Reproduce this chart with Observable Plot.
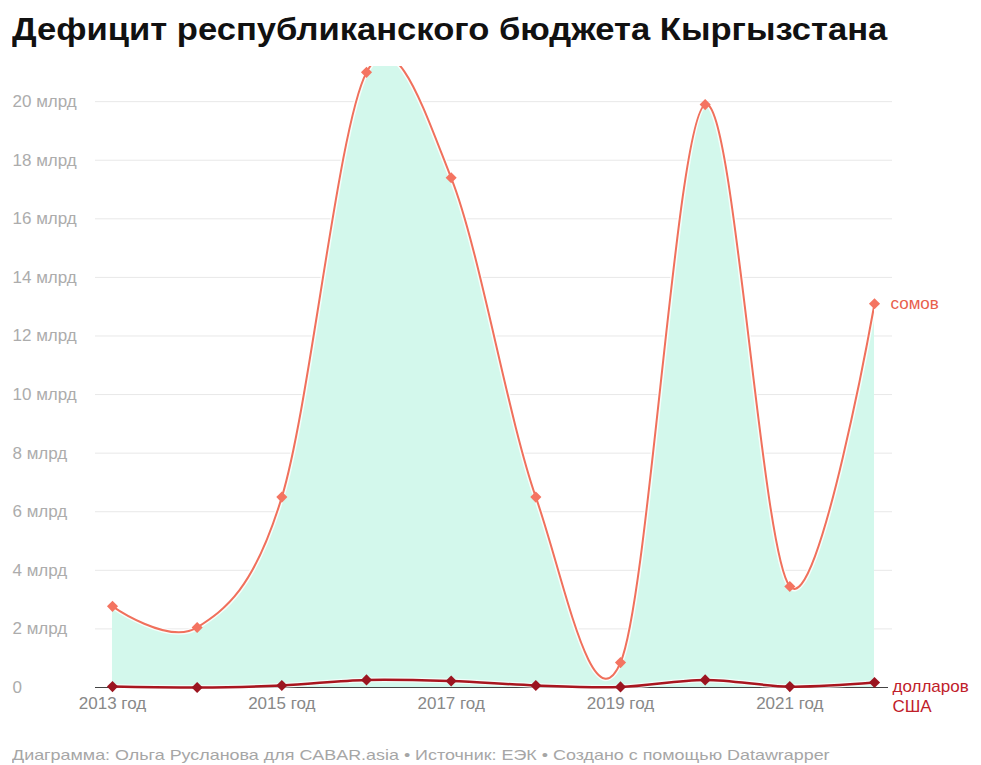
<!DOCTYPE html>
<html><head><meta charset="utf-8">
<script src="https://cdn.jsdelivr.net/npm/d3@7"></script>
<script src="https://cdn.jsdelivr.net/npm/@observablehq/plot@0.6"></script>
<style>
body{margin:0;background:#fff;font-family:"Liberation Sans",Arial,sans-serif;}
#wrap{position:relative;width:981px;height:765px;overflow:hidden;}
#title{position:absolute;left:12px;top:15px;font-size:31px;font-weight:bold;line-height:30px;color:#111;white-space:nowrap;transform:scaleX(1.115);transform-origin:left center;}
#chart{position:absolute;left:0;top:50px;}
#chart text.tick{letter-spacing:1px;}
#caption{position:absolute;left:12px;top:749px;font-size:14.5px;line-height:12px;color:#a6a6a6;white-space:nowrap;transform:scaleX(1.235);transform-origin:left center;}
</style></head><body>
<div id="wrap">
<div id="title">Дефицит республиканского бюджета Кыргызстана</div>
<div id="chart"></div>
<div id="caption">Диаграмма: Ольга Русланова для CABAR.asia • Источник: ЕЭК • Создано с помощью Datawrapper</div>
</div>
<script>
const years = [2013, 2014, 2015, 2016, 2017, 2018, 2019, 2020, 2021, 2022];
const somValues = [2.77, 2.05, 6.5, 21.0, 17.4, 6.5, 0.85, 19.9, 3.45, 13.1];
const usdValues = [0.03, 0.0, 0.07, 0.26, 0.22, 0.07, 0.02, 0.26, 0.03, 0.17];
const yTicks = [0, 2, 4, 6, 8, 10, 12, 14, 16, 18, 20];
const yTickLabels = ["0", "2 млрд", "4 млрд", "6 млрд", "8 млрд", "10 млрд", "12 млрд", "14 млрд", "16 млрд", "18 млрд", "20 млрд"];
const xTicks = [2013, 2015, 2017, 2019, 2021];
const xTickLabels = ["2013 год", "2015 год", "2017 год", "2019 год", "2021 год"];
const somLabel = "сомов";
const usdLabel = "долларов\nСША";

const som = years.map((y, i) => ({year: y, value: somValues[i]}));
const usd = years.map((y, i) => ({year: y, value: usdValues[i]}));
const yt = yTicks.map((v, i) => ({v, label: yTickLabels[i]}));
const xt = xTicks.map((v, i) => ({v, label: xTickLabels[i]}));
const last = years.length - 1;

const chart = Plot.plot({
  width: 981,
  height: 690,
  marginTop: 16,
  marginBottom: 53,
  marginLeft: 112,
  marginRight: 107,
  style: {fontFamily: "'Liberation Sans', Arial, sans-serif", background: "transparent"},
  x: {domain: [2013, 2022], axis: null},
  y: {domain: [0, 21.2], axis: null},
  marks: [
    Plot.ruleY(yTicks.filter(d => d > 0), {stroke: "#e8e8e8", strokeWidth: 1, insetLeft: -17, insetRight: -18}),
    Plot.areaY(som, {x: "year", y: "value", curve: "cardinal", fill: "#d3f8ec", clip: true}),
    Plot.ruleY([0], {stroke: "#444", strokeWidth: 1, insetLeft: -17, insetRight: -14}),
    Plot.lineY(som, {x: "year", y: "value", curve: "cardinal", stroke: "#fff", strokeOpacity: 0.8, strokeWidth: 5, clip: true}),
    Plot.lineY(som, {x: "year", y: "value", curve: "cardinal", stroke: "#f0705c", strokeWidth: 2, clip: true}),
    Plot.dot(som, {x: "year", y: "value", symbol: "diamond2", r: 5, fill: "#f47461", stroke: "none"}),
    Plot.lineY(usd, {x: "year", y: "value", curve: "cardinal", stroke: "#fff", strokeOpacity: 0.7, strokeWidth: 5}),
    Plot.lineY(usd, {x: "year", y: "value", curve: "cardinal", stroke: "#a8161f", strokeWidth: 2.5}),
    Plot.dot(usd, {x: "year", y: "value", symbol: "diamond2", r: 5, fill: "#9b1520", stroke: "none"}),
    Plot.text(yt, {y: "v", text: "label", frameAnchor: "left", dx: -100, textAnchor: "start", fill: "#acacac", fontSize: 17, className: "tick"}),
    Plot.text(xt, {x: "v", text: "label", frameAnchor: "bottom", dy: 21, fill: "#888", fontSize: 17, className: "tick"}),
    Plot.text([som[last]], {x: "year", y: "value", text: () => somLabel, dx: 16, textAnchor: "start", fill: "#e8604c", fontSize: 17, className: "tick"}),
    Plot.text([usd[last]], {x: "year", y: "value", text: () => usdLabel, dx: 18, dy: -4, textAnchor: "start", lineAnchor: "top", lineHeight: 1.15, fill: "#c0202a", fontSize: 17, className: "tick"})
  ]
});
document.getElementById("chart").appendChild(chart);
</script>
</body></html>
